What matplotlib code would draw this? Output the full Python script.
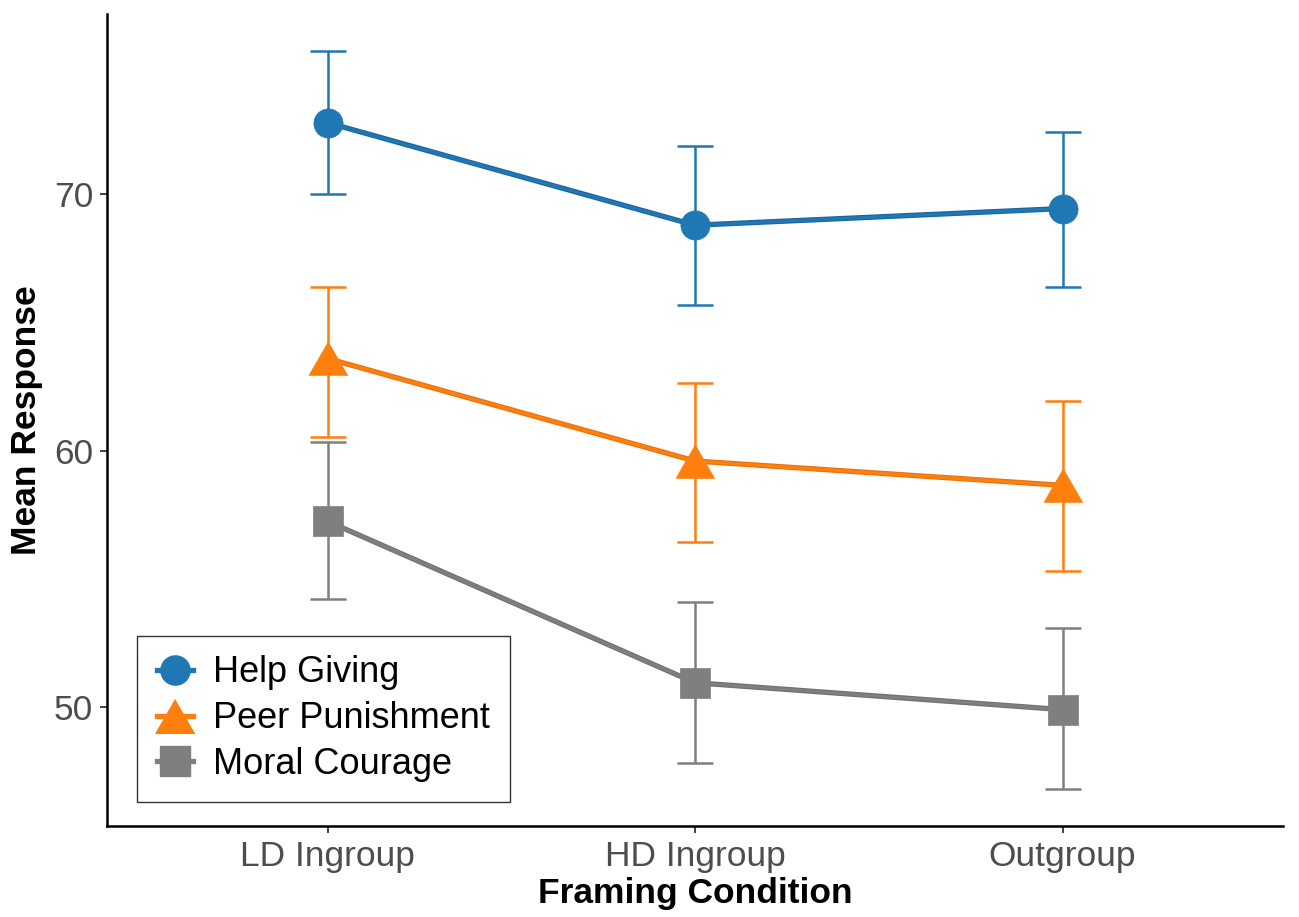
import matplotlib
matplotlib.use("Agg")
import matplotlib.pyplot as plt
import numpy as np
from matplotlib.lines import Line2D

plt.rcParams['font.family'] = ['Liberation Sans', 'DejaVu Sans']

conditions = ["LD Ingroup", "HD Ingroup", "Outgroup"]
series = ["Help Giving", "Peer Punishment", "Moral Courage"]

help_mean = [72.8, 68.8, 69.45]
help_lo = [70.0, 65.7, 66.4]
help_hi = [75.6, 71.9, 72.45]

peer_mean = [63.6, 59.6, 58.65]
peer_lo = [60.55, 56.45, 55.3]
peer_hi = [66.4, 62.65, 61.95]

moral_mean = [57.25, 50.95, 49.9]
moral_lo = [54.2, 47.8, 46.8]
moral_hi = [60.35, 54.1, 53.1]

colors = ["#1F77B4", "#FF7F0E", "#7F7F7F"]
edge_colors = ["#1A65A0", "#E8720C", "#707070"]
tri = [(0, 0.5), (-0.577, -0.5), (0.577, -0.5)]
markers = ["o", tri, "s"]
msizes = [21, 28, 21]

means = [help_mean, peer_mean, moral_mean]
los = [help_lo, peer_lo, moral_lo]
his = [help_hi, peer_hi, moral_hi]

fig = plt.figure(figsize=(12.99, 9.17), dpi=100)
ax = fig.add_axes([107/1299, 1-826/917, (1283-107)/1299, (826-14)/917])

x = np.arange(len(conditions))
for i in range(3):
    m = np.array(means[i]); lo = np.array(los[i]); hi = np.array(his[i])
    ax.errorbar(x, m, yerr=[m-lo, hi-m], fmt='none', ecolor=colors[i],
                elinewidth=1.8, capsize=13.3, capthick=1.8, zorder=2)
for i in range(3):
    ax.plot(x, means[i], color=edge_colors[i], lw=3.8, zorder=3, solid_capstyle='butt')
    ax.plot(x, means[i], color=colors[i], lw=2.2, zorder=3.1, solid_capstyle='butt')
    ax.plot(x, means[i], linestyle='none', marker=markers[i], ms=msizes[i],
            mfc=colors[i], mec=colors[i], mew=0.5, zorder=4)

handles = [Line2D([0], [0], color=colors[i], lw=3.8, marker=markers[i], ms=msizes[i],
                  mfc=colors[i], mec=colors[i]) for i in range(3)]
leg = ax.legend(handles, series, loc='lower left', bbox_to_anchor=(0.0255, 0.0296),
                borderaxespad=0, fontsize=26, frameon=True, fancybox=False,
                handlelength=1.0, handletextpad=0.55, labelspacing=0.3,
                borderpad=0.55)
leg.get_frame().set_edgecolor('black')
leg.get_frame().set_linewidth(1.0)

allv = np.concatenate([np.array(l) for l in los] + [np.array(h) for h in his])
lo_, hi_ = allv.min(), allv.max()
pad = 0.05*(hi_-lo_)
ax.set_ylim(lo_-pad, hi_+pad)
ax.set_xlim(-0.6, len(conditions)-1+0.6)
ax.set_xticks(x)
ax.set_xticklabels(conditions)
ax.set_yticks([50, 60, 70])

for s in ['top', 'right']:
    ax.spines[s].set_visible(False)
for s in ['left', 'bottom']:
    ax.spines[s].set_linewidth(1.8)
    ax.spines[s].set_color('black')
ax.tick_params(axis='both', length=5, width=1.3, color='#333333', labelsize=25.5,
               labelcolor='#4D4D4D', pad=5)
ax.set_xlabel("Framing Condition", fontsize=25.5, fontweight='bold', labelpad=3)
ax.set_ylabel("Mean Response", fontsize=25.5, fontweight='bold', labelpad=8)

fig.savefig("out.png", dpi=100)
